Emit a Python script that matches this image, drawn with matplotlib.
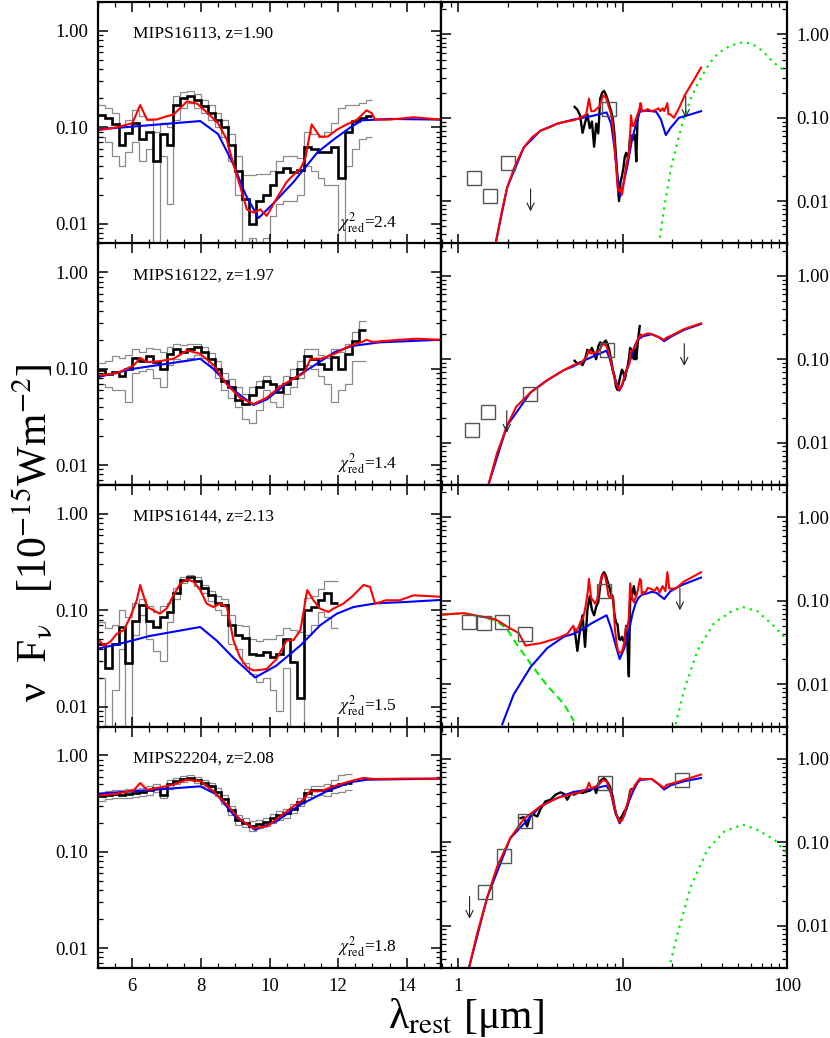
import numpy as np
import matplotlib
matplotlib.use("Agg")
import matplotlib.pyplot as plt
import matplotlib.transforms as mtransforms
from matplotlib.ticker import FixedLocator, FuncFormatter, NullFormatter, LogLocator, MultipleLocator

plt.rcParams['font.family'] = ['Liberation Serif', 'DejaVu Serif']
plt.rcParams['mathtext.fontset'] = 'stix'

# ---------------- labels ----------------
NAMES = ["MIPS16113, z=1.90", "MIPS16122, z=1.97", "MIPS16144, z=2.13", "MIPS22204, z=2.08"]
CHI2 = ["2.4", "1.4", "1.5", "1.8"]
LEFT_XTICKS = [6, 8, 10, 12, 14]
RIGHT_XTICKS = [1, 10, 100]
YTICKS = [0.01, 0.1, 1.0]

# ---------------- IRS spectra (0.2 um bins starting at 5.0 um) ----------------
BIN_START = 5.0
BIN_WIDTH = 0.2
SPEC1 = [0.135, 0.125, 0.107, 0.066, 0.087, 0.11, 0.075, 0.09, 0.045, 0.085,
         0.065, 0.17, 0.20, 0.21, 0.19, 0.165, 0.14, 0.12, 0.10, 0.065,
         0.035, 0.018, 0.010, 0.017, 0.02, 0.025, 0.034, 0.038, 0.034, 0.036,
         0.062, 0.06, 0.055, 0.055, 0.062, 0.030, 0.09, 0.115, 0.125, 0.13]
UP1 = [0.17, 0.16, 0.14, 0.10, 0.12, 0.15, 0.13, 0.12, 0.09, 0.11,
       0.10, 0.21, 0.23, 0.24, 0.22, 0.19, 0.17, 0.14, 0.12, 0.085,
       0.05, 0.032, 0.032, 0.033, 0.033, 0.035, 0.045, 0.05, 0.05, 0.048,
       0.09, 0.085, 0.08, 0.09, 0.11, 0.16, 0.17, 0.17, 0.18, 0.19]
LO1 = [0.08, 0.07, 0.05, 0.04, 0.055, 0.07, 0.045, 0.06, 0.004, 0.05,
       0.016, 0.12, 0.16, 0.18, 0.16, 0.14, 0.12, 0.10, 0.08, 0.045,
       0.02, 0.004, 0.007, 0.004, 0.007, 0.012, 0.016, 0.017, 0.017, 0.02,
       0.04, 0.035, 0.03, 0.025, 0.025, 0.004, 0.04, 0.06, 0.075, 0.08]

SPEC2 = [0.096, 0.088, 0.092, 0.085, 0.1, 0.13, 0.12, 0.137, 0.117, 0.1,
         0.143, 0.16, 0.15, 0.16, 0.168, 0.15, 0.127, 0.1, 0.075, 0.064,
         0.047, 0.043, 0.053, 0.064, 0.075, 0.07, 0.057, 0.07, 0.081, 0.1,
         0.137, 0.127, 0.112, 0.1, 0.132, 0.1, 0.143, 0.196, 0.25]
UP2 = [0.115, 0.12, 0.135, 0.13, 0.14, 0.16, 0.15, 0.165, 0.16, 0.15,
       0.17, 0.18, 0.175, 0.18, 0.18, 0.17, 0.145, 0.12, 0.09, 0.078,
       0.065, 0.055, 0.065, 0.075, 0.085, 0.07, 0.068, 0.085, 0.1, 0.12,
       0.16, 0.16, 0.14, 0.13, 0.16, 0.15, 0.18, 0.24, 0.31]
LO2 = [0.07, 0.065, 0.06, 0.06, 0.045, 0.09, 0.095, 0.1, 0.08, 0.065,
       0.11, 0.125, 0.12, 0.13, 0.14, 0.13, 0.11, 0.08, 0.06, 0.05,
       0.04, 0.03, 0.027, 0.037, 0.06, 0.045, 0.04, 0.055, 0.065, 0.08,
       0.11, 0.1, 0.085, 0.07, 0.045, 0.06, 0.07, 0.12, 0.12]

SPEC3 = [0.045, 0.025, 0.045, 0.067, 0.028, 0.078, 0.113, 0.078, 0.067, 0.085,
         0.096, 0.15, 0.205, 0.22, 0.2, 0.17, 0.145, 0.12, 0.113, 0.07,
         0.055, 0.052, 0.035, 0.034, 0.037, 0.033, 0.035, 0.05, 0.029, 0.0124,
         0.1, 0.108, 0.127, 0.15, 0.12]
UP3 = [0.075, 0.065, 0.07, 0.1, 0.085, 0.12, 0.13, 0.11, 0.095, 0.11,
       0.12, 0.17, 0.22, 0.235, 0.22, 0.185, 0.16, 0.14, 0.13, 0.09,
       0.07, 0.068, 0.05, 0.048, 0.05, 0.05, 0.055, 0.065, 0.062, 0.06,
       0.135, 0.14, 0.165, 0.2, 0.2]
LO3 = [0.02, 0.004, 0.015, 0.04, 0.004, 0.055, 0.09, 0.05, 0.038, 0.03,
       0.075, 0.13, 0.19, 0.205, 0.18, 0.15, 0.125, 0.1, 0.09, 0.045,
       0.04, 0.028, 0.022, 0.018, 0.02, 0.015, 0.009, 0.025, 0.006, 0.004,
       0.055, 0.07, 0.095, 0.085, 0.065]

SPEC4 = [0.376, 0.39, 0.4, 0.39, 0.4, 0.41, 0.415, 0.435, 0.46, 0.39,
         0.5, 0.54, 0.57, 0.585, 0.56, 0.52, 0.48, 0.42, 0.35, 0.27,
         0.215, 0.2, 0.187, 0.195, 0.205, 0.223, 0.24, 0.25, 0.28, 0.33,
         0.41, 0.435, 0.435, 0.435, 0.48, 0.5, 0.52]
UP4 = [0.41, 0.43, 0.44, 0.44, 0.45, 0.45, 0.46, 0.48, 0.5, 0.47,
       0.55, 0.59, 0.61, 0.62, 0.6, 0.56, 0.52, 0.46, 0.39, 0.3,
       0.24, 0.225, 0.21, 0.215, 0.225, 0.245, 0.265, 0.275, 0.31, 0.36,
       0.45, 0.48, 0.48, 0.5, 0.55, 0.62, 0.64]
LO4 = [0.34, 0.35, 0.36, 0.36, 0.36, 0.37, 0.38, 0.39, 0.42, 0.36,
       0.45, 0.5, 0.53, 0.55, 0.52, 0.48, 0.44, 0.38, 0.31, 0.24,
       0.19, 0.18, 0.165, 0.175, 0.185, 0.2, 0.215, 0.225, 0.25, 0.3,
       0.37, 0.39, 0.39, 0.38, 0.41, 0.42, 0.44]

# short-wavelength spectrum of MIPS22204
S4_LAM = [2.39, 2.5, 2.62, 2.75, 2.88, 3.02, 3.16, 3.39, 3.64, 3.9, 4.19, 4.4, 4.6, 4.82, 5.0]
S4_VAL = [0.195, 0.2, 0.155, 0.21, 0.214, 0.204, 0.25, 0.31, 0.324, 0.372, 0.397, 0.38, 0.324, 0.383, 0.376]

# ---------------- models: red = total, blue = AGN ----------------
R1_LAM = [1.68, 1.85, 1.98, 2.2, 2.5, 2.8, 3.16, 3.6, 4.0, 4.5,
          5.0, 5.55, 6.0, 6.23, 6.43, 6.7, 7.0, 7.2, 7.6, 7.9,
          8.2, 8.5, 8.75, 8.95, 9.15, 9.34, 9.53, 9.73, 9.92, 10.2,
          10.5, 10.7, 10.9, 11.04, 11.23, 11.47, 11.7, 11.96, 12.25, 12.55,
          12.83, 12.98, 13.08, 13.5, 14.2, 15.0, 16.0, 16.5, 17.0, 17.5,
          17.9, 18.7, 19.0, 19.5, 20.5, 22.0, 24.0, 27.0, 30.0]
R1_VAL = [0.003, 0.008, 0.0145, 0.026, 0.044, 0.058, 0.07, 0.077, 0.085, 0.09,
          0.093, 0.10, 0.11, 0.17, 0.12, 0.12, 0.13, 0.135, 0.186, 0.175,
          0.14, 0.11, 0.075, 0.041, 0.024, 0.014, 0.013, 0.014, 0.012, 0.018,
          0.027, 0.032, 0.037, 0.047, 0.107, 0.08, 0.08, 0.094, 0.107, 0.12,
          0.15, 0.14, 0.12, 0.12, 0.127, 0.12, 0.125, 0.13, 0.12, 0.13,
          0.12, 0.15, 0.11, 0.11, 0.10, 0.13, 0.19, 0.28, 0.40]
B1_LAM = [1.68, 1.98, 2.5, 3.16, 4.0, 4.5, 5.0, 6.5, 7.98, 8.5,
          8.95, 9.3, 9.68, 10.1, 10.7, 11.4, 11.9, 12.4, 12.7, 13.5,
          15.0, 16.0, 17.1, 18.3, 19.5, 22.0, 26.0, 30.0]
B1_VAL = [0.003, 0.0145, 0.044, 0.07, 0.085, 0.09, 0.095, 0.105, 0.116, 0.085,
          0.041, 0.02, 0.0114, 0.016, 0.027, 0.055, 0.076, 0.102, 0.118, 0.122,
          0.12, 0.118, 0.095, 0.062, 0.075, 0.1, 0.11, 0.12]

R2_LAM = [1.53, 1.72, 1.98, 2.25, 2.75, 3.47, 4.38, 5.0, 5.55, 6.04,
          6.23, 6.43, 6.8, 7.2, 7.6, 7.98, 8.36, 8.75, 9.14, 9.53,
          9.92, 10.3, 10.7, 11.0, 11.2, 11.5, 11.9, 12.3, 12.7, 12.83,
          13.0, 13.8, 14.3, 15.0, 16.5, 17.9, 18.3, 19.5, 23.6, 30.0]
R2_VAL = [0.0032, 0.0075, 0.016, 0.027, 0.04, 0.056, 0.074, 0.085, 0.09, 0.108,
          0.13, 0.117, 0.12, 0.127, 0.155, 0.143, 0.11, 0.069, 0.05, 0.043,
          0.05, 0.065, 0.079, 0.09, 0.127, 0.127, 0.143, 0.17, 0.19, 0.2,
          0.19, 0.2, 0.205, 0.2, 0.185, 0.17, 0.18, 0.19, 0.23, 0.27]
B2_LAM = [1.53, 1.98, 2.75, 3.47, 4.38, 5.0, 6.04, 7.98, 8.36, 8.95,
          9.53, 9.92, 10.6, 11.3, 11.9, 12.4, 13.2, 15.0, 16.5, 17.9,
          19.5, 23.6, 30.0]
B2_VAL = [0.0032, 0.016, 0.04, 0.056, 0.074, 0.082, 0.1, 0.127, 0.1, 0.06,
          0.042, 0.048, 0.075, 0.108, 0.149, 0.172, 0.188, 0.2, 0.185, 0.165,
          0.185, 0.225, 0.265]

R3_LAM = [0.78, 1.08, 1.36, 1.68, 1.98, 2.33, 2.56, 3.16, 4.0, 4.6,
          5.0, 5.17, 5.36, 5.55, 5.75, 5.94, 6.13, 6.23, 6.43, 6.62,
          6.8, 7.0, 7.2, 7.4, 7.6, 7.79, 7.98, 8.17, 8.36, 8.56,
          8.76, 8.95, 9.14, 9.34, 9.53, 9.73, 9.92, 10.2, 10.5, 10.7,
          10.9, 11.1, 11.28, 11.47, 11.72, 11.86, 12.15, 12.4, 12.74, 12.93,
          13.08, 13.4, 13.8, 14.2, 15.0, 15.5, 16.2, 16.8, 17.5, 18.2,
          18.7, 19.2, 21.0, 23.6, 30.0]
R3_VAL = [0.068, 0.071, 0.065, 0.06, 0.049, 0.041, 0.029, 0.031, 0.0355, 0.04,
          0.05, 0.043, 0.047, 0.057, 0.062, 0.085, 0.127, 0.183, 0.108, 0.1,
          0.092, 0.104, 0.143, 0.19, 0.209, 0.198, 0.162, 0.117, 0.108, 0.117,
          0.108, 0.0485, 0.0325, 0.0256, 0.0237, 0.024, 0.0246, 0.031, 0.0485, 0.049,
          0.062, 0.162, 0.127, 0.104, 0.096, 0.104, 0.117, 0.138, 0.183, 0.175,
          0.117, 0.127, 0.127, 0.143, 0.138, 0.13, 0.145, 0.125, 0.15, 0.13,
          0.22, 0.14, 0.14, 0.17, 0.22]
B3_LAM = [1.85, 2.17, 2.75, 3.47, 4.38, 5.0, 5.55, 6.5, 7.98, 8.47,
          8.95, 9.58, 10.2, 10.9, 11.48, 11.96, 12.45, 13.1, 14.0, 15.0,
          16.0, 17.9, 19.5, 23.0, 30.0]
B3_VAL = [0.0033, 0.0075, 0.016, 0.027, 0.037, 0.04, 0.044, 0.054, 0.067, 0.048,
          0.032, 0.02, 0.0266, 0.043, 0.07, 0.092, 0.108, 0.118, 0.122, 0.128,
          0.125, 0.105, 0.13, 0.155, 0.19]
G3_LAM = [0.78, 1.08, 1.36, 1.68, 1.98, 2.17, 2.75, 3.47, 4.38, 5.05]
G3_VAL = [0.068, 0.071, 0.065, 0.058, 0.046, 0.034, 0.0176, 0.0096, 0.0058, 0.0036]

R4_LAM = [1.16, 1.30, 1.5, 1.72, 2.07, 2.5, 3.16, 4.0, 5.0, 5.55,
          6.04, 6.23, 6.43, 6.82, 7.2, 7.59, 7.98, 8.37, 8.76, 9.15,
          9.53, 9.92, 10.31, 10.7, 10.99, 11.18, 11.48, 11.86, 12.35, 12.74,
          12.93, 13.08, 14.0, 15.0, 16.5, 17.9, 18.5, 19.5, 23.6, 30.0]
R4_VAL = [0.0031, 0.008, 0.022, 0.051, 0.112, 0.19, 0.27, 0.34, 0.383, 0.4,
          0.435, 0.518, 0.44, 0.467, 0.498, 0.56, 0.54, 0.425, 0.308, 0.215,
          0.176, 0.183, 0.233, 0.296, 0.348, 0.425, 0.425, 0.478, 0.54, 0.585,
          0.575, 0.57, 0.575, 0.575, 0.5, 0.45, 0.49, 0.5, 0.56, 0.65]
B4_LAM = [1.16, 1.5, 2.07, 3.16, 4.0, 5.0, 6.04, 7.98, 8.47, 8.95,
          9.58, 10.2, 10.9, 11.67, 12.35, 12.83, 15.0, 16.5, 17.9, 19.5,
          23.6, 30.0]
B4_VAL = [0.0031, 0.022, 0.112, 0.27, 0.34, 0.401, 0.425, 0.478, 0.392, 0.242,
          0.169, 0.207, 0.308, 0.425, 0.527, 0.56, 0.575, 0.5, 0.43, 0.48,
          0.54, 0.59]

# cold dust (green dotted)
C1_LAM = [16.6, 18.0, 19.7, 21.5, 23.6, 26.0, 28.6, 32.0, 36.0, 41.0, 45.6, 53.8, 60.0, 66.0, 73.0, 84.0, 100.0]
C1_VAL = [0.003, 0.009, 0.025, 0.05, 0.1, 0.17, 0.254, 0.38, 0.533, 0.66, 0.737, 0.808, 0.78, 0.71, 0.6, 0.45, 0.35]
C3_LAM = [21.0, 23.6, 28.6, 36.0, 45.6, 53.8, 66.0, 84.0, 100.0]
C3_VAL = [0.0033, 0.0084, 0.0256, 0.054, 0.074, 0.084, 0.075, 0.049, 0.034]
C4_LAM = [19.1, 21.6, 26.0, 32.7, 41.6, 53.8, 66.0, 84.0, 100.0]
C4_VAL = [0.003, 0.0081, 0.0294, 0.081, 0.135, 0.163, 0.141, 0.107, 0.074]

# photometry (open squares) and upper limits (arrows)
P1_LAM = [1.24, 1.55, 2.01, 8.27]
P1_VAL = [0.0191, 0.0115, 0.0284, 0.129]
P2_LAM = [1.21, 1.51, 2.71, 8.07]
P2_VAL = [0.0142, 0.0232, 0.0379, 0.128]
P3_LAM = [1.156, 1.44, 1.85, 2.56, 7.69]
P3_VAL = [0.0562, 0.0548, 0.0552, 0.0399, 0.13]
P4_LAM = [1.46, 1.89, 2.54, 7.8, 22.9]
P4_VAL = [0.0256, 0.0676, 0.181, 0.515, 0.565]
U1_LAM = [2.75, 24.2]
U1_VAL = [0.0139, 0.184]
U2_LAM = [1.97, 23.7]
U2_VAL = [0.0242, 0.154]
U3_LAM = [22.3]
U3_VAL = [0.142]
U4_LAM = [1.17]
U4_VAL = [0.0223]

ROWS = [
    dict(spec=SPEC1, up=UP1, lo=LO1, r=(R1_LAM, R1_VAL), b=(B1_LAM, B1_VAL),
         cold=(C1_LAM, C1_VAL), star=None, phot=(P1_LAM, P1_VAL), ul=(U1_LAM, U1_VAL), short=None),
    dict(spec=SPEC2, up=UP2, lo=LO2, r=(R2_LAM, R2_VAL), b=(B2_LAM, B2_VAL),
         cold=None, star=None, phot=(P2_LAM, P2_VAL), ul=(U2_LAM, U2_VAL), short=None),
    dict(spec=SPEC3, up=UP3, lo=LO3, r=(R3_LAM, R3_VAL), b=(B3_LAM, B3_VAL),
         cold=(C3_LAM, C3_VAL), star=(G3_LAM, G3_VAL), phot=(P3_LAM, P3_VAL), ul=(U3_LAM, U3_VAL), short=None),
    dict(spec=SPEC4, up=UP4, lo=LO4, r=(R4_LAM, R4_VAL), b=(B4_LAM, B4_VAL),
         cold=(C4_LAM, C4_VAL), star=None, phot=(P4_LAM, P4_VAL), ul=(U4_LAM, U4_VAL), short=(S4_LAM, S4_VAL)),
]

# ---------------- figure ----------------
W, H = 830, 1038
fig = plt.figure(figsize=(W / 100, H / 100), dpi=100)

xl0, xmid, xr1 = 98, 441, 787
top0, rowh = 2, 241.5

RED = '#ff0000'
BLUE = '#0000ff'
GREEN = '#00ee00'
GRAY = '#8a8a8a'
TICKFS = 13.5


def fmt_y(v, pos):
    return "%.2f" % v


def common_ticks(ax):
    ax.tick_params(which='both', direction='in', top=True, bottom=True, left=True, right=True,
                   labelsize=TICKFS, colors='black')
    ax.tick_params(which='major', length=7, width=1.1, pad=7)
    ax.tick_params(which='minor', length=3.5, width=0.9)
    for s in ax.spines.values():
        s.set_linewidth(1.6)


for i, row in enumerate(ROWS):
    ytop = top0 + rowh * i
    bottom = 1 - (ytop + rowh) / H
    hfrac = rowh / H
    axL = fig.add_axes([xl0 / W, bottom, (xmid - xl0) / W, hfrac])
    axR = fig.add_axes([xmid / W, bottom, (xr1 - xmid) / W, hfrac])

    n = len(row['spec'])
    edges = BIN_START + BIN_WIDTH * np.arange(n + 1)
    centers = 0.5 * (edges[:-1] + edges[1:])

    # ----- left panel -----
    axL.stairs(row['up'], edges, baseline=None, color=GRAY, lw=0.9)
    axL.stairs(row['lo'], edges, baseline=None, color=GRAY, lw=0.9)
    axL.stairs(row['spec'], edges, baseline=None, color='black', lw=1.9)
    axL.plot(row['b'][0], row['b'][1], color=BLUE, lw=1.5)
    axL.plot(row['r'][0], row['r'][1], color=RED, lw=1.5)
    axL.set_yscale('log')
    axL.set_xlim(5, 15)
    axL.set_ylim(0.0062, 2.0)
    axL.yaxis.set_major_locator(FixedLocator(YTICKS))
    axL.yaxis.set_major_formatter(FuncFormatter(fmt_y))
    axL.yaxis.set_minor_locator(LogLocator(base=10, subs=np.arange(2, 10)))
    axL.yaxis.set_minor_formatter(NullFormatter())
    axL.xaxis.set_major_locator(FixedLocator(LEFT_XTICKS))
    axL.xaxis.set_minor_locator(MultipleLocator(0.5))
    common_ticks(axL)
    axL.tick_params(labelright=False, labeltop=False, labelbottom=(i == 3))
    axL.text(0.101, 0.867, NAMES[i], transform=axL.transAxes, fontsize=12.5,
             ha='left', va='center')
    axL.text(0.70, 0.087, r'$\chi^2_{\rm red}$=' + CHI2[i], transform=axL.transAxes,
             fontsize=12.5, ha='left', va='center')

    # ----- right panel -----
    axR.set_xscale('log')
    axR.set_yscale('log')
    if row['cold'] is not None:
        axR.plot(row['cold'][0], row['cold'][1], color=GREEN, lw=1.6, dashes=(1, 2.2))
    if row['star'] is not None:
        axR.plot(row['star'][0], row['star'][1], color=GREEN, lw=1.5, dashes=(3.5, 2.2))
    if row['short'] is not None:
        axR.plot(row['short'][0], row['short'][1], color='black', lw=1.7)
    axR.plot(centers, row['spec'], color='black', lw=1.7)
    axR.plot(row['b'][0], row['b'][1], color=BLUE, lw=1.5)
    axR.plot(row['r'][0], row['r'][1], color=RED, lw=1.5)
    axR.plot(row['phot'][0], row['phot'][1], 's', ms=9.5, mfc='none', mec='#555555', mew=1.0)
    tip_tr = mtransforms.offset_copy(axR.transData, fig=fig, x=0, y=-16, units='points')
    for xv, yv in zip(row['ul'][0], row['ul'][1]):
        axR.annotate('', xy=(xv, yv), xycoords=tip_tr, xytext=(xv, yv), textcoords='data',
                     arrowprops=dict(arrowstyle='->', color='#222222', lw=0.8,
                                     shrinkA=0, shrinkB=0, mutation_scale=13))
    axR.set_xlim(0.784, 100)
    axR.set_ylim(0.0031, 2.45)
    axR.xaxis.set_major_locator(FixedLocator(RIGHT_XTICKS))
    axR.xaxis.set_major_formatter(FuncFormatter(lambda v, p: "%d" % v))
    axR.xaxis.set_minor_locator(LogLocator(base=10, subs=np.arange(2, 10)))
    axR.xaxis.set_minor_formatter(NullFormatter())
    axR.yaxis.set_major_locator(FixedLocator(YTICKS))
    axR.yaxis.set_major_formatter(FuncFormatter(fmt_y))
    axR.yaxis.set_minor_locator(LogLocator(base=10, subs=np.arange(2, 10)))
    axR.yaxis.set_minor_formatter(NullFormatter())
    common_ticks(axR)
    axR.tick_params(labelleft=False, labelright=True, labeltop=False, labelbottom=(i == 3))

fig.text(0.040, 0.487, 'ν  F$_{\\mathrm{\\nu}}$   [10$^{-15}$Wm$^{-2}$]', rotation=90,
         fontsize=30, ha='center', va='center')
fig.text(0.562, 0.020, 'λ$_{\\mathrm{rest}}$ [μm]', fontsize=30, ha='center', va='center')

fig.savefig('out.png', dpi=100)
